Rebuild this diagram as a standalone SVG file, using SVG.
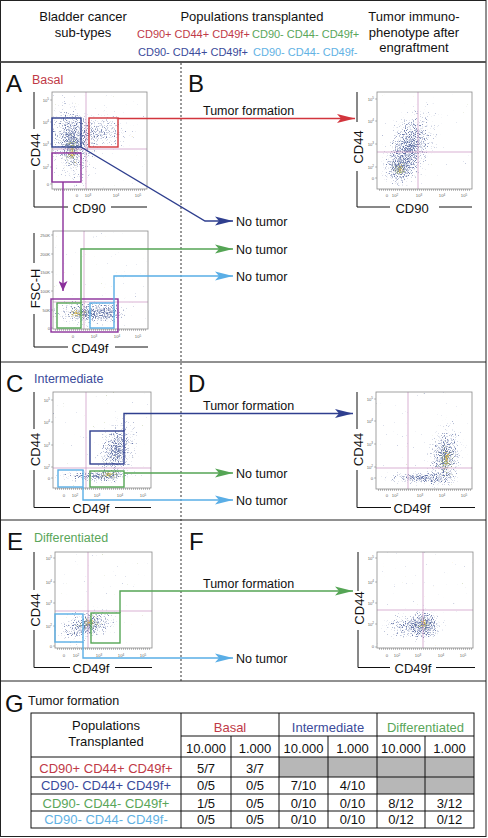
<svg xmlns="http://www.w3.org/2000/svg" width="488" height="838" viewBox="0 0 488 838">
<style>
text{font-family:"Liberation Sans",Arial,Helvetica,sans-serif;fill:#111}
.h{font-size:13px}
.pl{font-size:11px}
.lt{font-size:24px}
.sub{font-size:12.5px}
.ax{font-size:13px}
.lbl{font-size:12.5px}
.tk{font-size:4.2px;fill:#666}
.bg{fill:#fff}
.fr{fill:none;stroke:#8a8a8a;stroke-width:0.8}
.q{stroke:#c891c0;stroke-width:0.7;fill:none}
.br{stroke:#111;stroke-width:1;fill:none}
.tm{stroke:#777;stroke-width:0.5;fill:none}
.mt{stroke:#555;stroke-width:1.6;stroke-dasharray:0.5 1.5;fill:none}
.g{fill:none;stroke-width:1.4}
.sep{stroke:#222;stroke-width:1;fill:none}
.tb{font-size:13px}
.red{stroke:#d2353d}
.dbl{stroke:#2f3f8f}
.grn{stroke:#55a555}
.lbl2{stroke:#5aaee6}
.pur{stroke:#8b2f9b}
.tred{fill:#bf3a47}
.tdbl{fill:#3b4b9b}
.tgrn{fill:#5aa65a}
.tlbl{fill:#62b2e4}
.cell{fill:#b7b7b7}
.tl{stroke:#111;stroke-width:1;fill:none}
</style>
<defs>
<radialGradient id="dens"><stop offset="0" stop-color="#000" stop-opacity="1"/><stop offset="1" stop-color="#000" stop-opacity="0"/></radialGradient>
<filter id="fB" filterUnits="userSpaceOnUse" x="0" y="0" width="488" height="838" color-interpolation-filters="sRGB">
<feTurbulence type="fractalNoise" baseFrequency="0.9" numOctaves="2" seed="4" result="n"/>
<feColorMatrix in="n" type="matrix" values="0 0 0 0 0 0 0 0 0 0 0 0 0 0 0 1 0 0 0 0" result="na"/>
<feComposite in="na" in2="SourceAlpha" operator="arithmetic" k1="0" k2="1" k3="0.46" k4="-0.78" result="c"/>
<feComponentTransfer in="c" result="m"><feFuncA type="linear" slope="4" intercept="0"/></feComponentTransfer>
<feFlood flood-color="#6878aa"/>
<feComposite in2="m" operator="in"/>
</filter>
<filter id="fG" filterUnits="userSpaceOnUse" x="0" y="0" width="488" height="838" color-interpolation-filters="sRGB">
<feTurbulence type="fractalNoise" baseFrequency="0.9" numOctaves="2" seed="11" result="n"/>
<feColorMatrix in="n" type="matrix" values="0 0 0 0 0 0 0 0 0 0 0 0 0 0 0 1 0 0 0 0" result="na"/>
<feComposite in="na" in2="SourceAlpha" operator="arithmetic" k1="0" k2="1" k3="0.45" k4="-0.82" result="c"/>
<feComponentTransfer in="c" result="m"><feFuncA type="linear" slope="4" intercept="0"/></feComponentTransfer>
<feFlood flood-color="#97aa6c"/>
<feComposite in2="m" operator="in"/>
</filter>
<filter id="fY" filterUnits="userSpaceOnUse" x="0" y="0" width="488" height="838" color-interpolation-filters="sRGB">
<feTurbulence type="fractalNoise" baseFrequency="0.9" numOctaves="2" seed="23" result="n"/>
<feColorMatrix in="n" type="matrix" values="0 0 0 0 0 0 0 0 0 0 0 0 0 0 0 1 0 0 0 0" result="na"/>
<feComposite in="na" in2="SourceAlpha" operator="arithmetic" k1="0" k2="1" k3="0.5" k4="-0.85" result="c"/>
<feComponentTransfer in="c" result="m"><feFuncA type="linear" slope="4" intercept="0"/></feComponentTransfer>
<feFlood flood-color="#dcb444"/>
<feComposite in2="m" operator="in"/>
</filter>
<clipPath id="cA1"><rect x="52" y="92" width="95" height="97"/></clipPath>
<clipPath id="cA2"><rect x="53" y="231" width="95" height="98"/></clipPath>
<clipPath id="cB"><rect x="377" y="92" width="95" height="97"/></clipPath>
<clipPath id="cC"><rect x="53" y="392" width="98" height="96"/></clipPath>
<clipPath id="cD"><rect x="376" y="392" width="96" height="97"/></clipPath>
<clipPath id="cE"><rect x="55" y="552" width="97" height="96"/></clipPath>
<clipPath id="cF"><rect x="377" y="552" width="96" height="96"/></clipPath>
<marker id="mR" viewBox="0 0 18 10" refX="18" refY="5" markerWidth="18" markerHeight="10" markerUnits="userSpaceOnUse" orient="auto"><path d="M0,0.5 L18,5 L0,9.5 L4,5Z" fill="#d2353d"/></marker>
<marker id="mDB" viewBox="0 0 18 10" refX="18" refY="5" markerWidth="18" markerHeight="10" markerUnits="userSpaceOnUse" orient="auto"><path d="M0,0.5 L18,5 L0,9.5 L4,5Z" fill="#2f3f8f"/></marker>
<marker id="mG" viewBox="0 0 18 10" refX="18" refY="5" markerWidth="18" markerHeight="10" markerUnits="userSpaceOnUse" orient="auto"><path d="M0,0.5 L18,5 L0,9.5 L4,5Z" fill="#55a555"/></marker>
<marker id="mLB" viewBox="0 0 18 10" refX="18" refY="5" markerWidth="18" markerHeight="10" markerUnits="userSpaceOnUse" orient="auto"><path d="M0,0.5 L18,5 L0,9.5 L4,5Z" fill="#5aaee6"/></marker>
<marker id="mP" viewBox="0 0 10 9" refX="10" refY="4.5" markerWidth="10" markerHeight="9" markerUnits="userSpaceOnUse" orient="auto"><path d="M0,0 L10,4.5 L0,9 L2.5,4.5Z" fill="#8b2f9b"/></marker>
</defs>

<rect x="0" y="0" width="488" height="838" fill="#fff"/>

<g id="frame">
<rect x="0.5" y="0.5" width="485.5" height="836" fill="none" stroke="#222" stroke-width="1"/>
<line x1="0.5" y1="62" x2="486" y2="62" stroke="#555" stroke-width="2"/>
<path class="sep" d="M0.5,362H486M0.5,520H486M0.5,681H486"/>
<line x1="181" y1="63" x2="181" y2="681" stroke="#333" stroke-width="1" stroke-dasharray="2 2"/>
</g>

<g id="header">
<text class="h" x="83" y="21" text-anchor="middle">Bladder cancer</text>
<text class="h" x="83" y="36.5" text-anchor="middle">sub-types</text>
<text class="h" x="252" y="21" text-anchor="middle">Populations transplanted</text>
<text class="pl tred" x="137" y="38">CD90+ CD44+ CD49f+</text>
<text class="pl tgrn" x="252" y="38">CD90- CD44- CD49f+</text>
<text class="pl tdbl" x="138" y="55.5">CD90- CD44+ CD49f+</text>
<text class="pl tlbl" x="253" y="55.5">CD90- CD44- CD49f-</text>
<text class="h" x="414" y="21" text-anchor="middle">Tumor immuno-</text>
<text class="h" x="414" y="36.5" text-anchor="middle">phenotype after</text>
<text class="h" x="414" y="51.5" text-anchor="middle">engraftment</text>
</g>

<g id="panel-A">
<text class="lt" x="6" y="92">A</text>
<text class="sub tred" x="32" y="84">Basal</text>
<g id="plot-A1">
<rect class="bg" x="52" y="92" width="95" height="97"/>
<g clip-path="url(#cA1)">
<g filter="url(#fB)">
<ellipse cx="72" cy="142" rx="28" ry="52" fill="url(#dens)" transform="rotate(-10 72 142)"/>
<ellipse cx="102" cy="132" rx="38" ry="26" fill="url(#dens)" fill-opacity="0.7"/>
</g>
<g filter="url(#fG)"><ellipse cx="72" cy="150" rx="12" ry="24" fill="url(#dens)"/></g>
<g filter="url(#fY)"><ellipse cx="72" cy="153" rx="7" ry="14" fill="url(#dens)"/></g>
</g>
<path class="q" d="M86,92V189M52,149H147"/>
<rect class="fr" x="52" y="92" width="95" height="97"/>
<path class="tm" d="M50,100H52M50,122H52M50,144H52M50,167H52M50,184H52"/>
<path class="mt" d="M54,190H146"/>
<text class="tk" x="49" y="101.5" text-anchor="end">10<tspan font-size="3" dy="-1.5">5</tspan></text>
<text class="tk" x="49" y="123.5" text-anchor="end">10<tspan font-size="3" dy="-1.5">4</tspan></text>
<text class="tk" x="49" y="145.5" text-anchor="end">10<tspan font-size="3" dy="-1.5">3</tspan></text>
<text class="tk" x="49" y="168.5" text-anchor="end">10<tspan font-size="3" dy="-1.5">2</tspan></text>
<text class="tk" x="49" y="185.5" text-anchor="end">0</text>
<text class="tk" x="77" y="197" text-anchor="middle">0</text>
<text class="tk" x="88" y="197" text-anchor="middle">10<tspan font-size="3" dy="-1.5">3</tspan></text>
<text class="tk" x="116" y="197" text-anchor="middle">10<tspan font-size="3" dy="-1.5">4</tspan></text>
<text class="tk" x="138" y="197" text-anchor="middle">10<tspan font-size="3" dy="-1.5">5</tspan></text>
<path class="br" d="M34,92V129M34,170V207H68M111,207H147"/>
<text class="ax" transform="translate(39.5,150) rotate(-90)" text-anchor="middle">CD44</text>
<text class="ax" x="89" y="212.5" text-anchor="middle">CD90</text>
<rect class="g red" x="89" y="118" width="29" height="29"/>
<rect class="g dbl" x="52" y="118" width="29" height="29"/>
<rect class="g pur" x="52" y="153" width="29" height="29"/>
</g>
<g id="plot-A2">
<rect class="bg" x="53" y="231" width="95" height="98"/>
<g clip-path="url(#cA2)">
<g filter="url(#fB)">
<ellipse cx="88" cy="313" rx="46" ry="16" fill="url(#dens)"/>
<ellipse cx="110" cy="312" rx="20" ry="12" fill="url(#dens)" fill-opacity="0.8"/>
</g>
<g filter="url(#fG)"><ellipse cx="80" cy="313" rx="18" ry="9" fill="url(#dens)"/></g>
<g filter="url(#fY)"><ellipse cx="76" cy="313" rx="10" ry="6" fill="url(#dens)"/></g>
</g>
<path class="q" d="M84,231V329M53,302H148"/>
<rect class="fr" x="53" y="231" width="95" height="98"/>
<path class="tm" d="M51,235H53M51,254H53M51,272H53M51,291H53M51,310H53M51,328H53"/>
<path class="mt" d="M55,330H147"/>
<text class="tk" x="50" y="236.5" text-anchor="end">250K</text>
<text class="tk" x="50" y="255.5" text-anchor="end">200K</text>
<text class="tk" x="50" y="273.5" text-anchor="end">150K</text>
<text class="tk" x="50" y="292.5" text-anchor="end">100K</text>
<text class="tk" x="50" y="311.5" text-anchor="end">50K</text>
<text class="tk" x="50" y="329.5" text-anchor="end">0</text>
<text class="tk" x="73" y="338" text-anchor="middle">0</text>
<text class="tk" x="94" y="338" text-anchor="middle">10<tspan font-size="3" dy="-1.5">3</tspan></text>
<text class="tk" x="117" y="338" text-anchor="middle">10<tspan font-size="3" dy="-1.5">4</tspan></text>
<text class="tk" x="138" y="338" text-anchor="middle">10<tspan font-size="3" dy="-1.5">5</tspan></text>
<path class="br" d="M34,233V263M34,314V347H68M115,347H148"/>
<text class="ax" transform="translate(39.5,288.5) rotate(-90)" text-anchor="middle">FSC-H</text>
<text class="ax" x="90" y="352.5" text-anchor="middle">CD49f</text>
<rect class="g pur" x="51" y="299" width="67" height="33"/>
<rect class="g grn" x="57" y="303" width="24" height="25"/>
<rect class="g lbl2" x="90" y="303" width="24" height="25"/>
</g>
</g>

<g id="panel-B">
<text class="lt" x="188" y="92">B</text>
<g id="plot-B">
<rect class="bg" x="377" y="92" width="95" height="97"/>
<g clip-path="url(#cB)">
<g filter="url(#fB)">
<ellipse cx="410" cy="146" rx="30" ry="52" fill="url(#dens)" transform="rotate(22 410 146)"/>
<ellipse cx="400" cy="167" rx="18" ry="20" fill="url(#dens)"/>
</g>
<g filter="url(#fG)"><ellipse cx="400" cy="169" rx="11" ry="13" fill="url(#dens)"/></g>
<g filter="url(#fY)"><ellipse cx="400" cy="170" rx="6" ry="8" fill="url(#dens)"/></g>
</g>
<path class="q" d="M418,92V189M377,152H472"/>
<rect class="fr" x="377" y="92" width="95" height="97"/>
<path class="tm" d="M375,99H377M375,121H377M375,144H377M375,167H377M375,178H377"/>
<path class="mt" d="M379,190H471"/>
<text class="tk" x="374" y="100.5" text-anchor="end">10<tspan font-size="3" dy="-1.5">5</tspan></text>
<text class="tk" x="374" y="122.5" text-anchor="end">10<tspan font-size="3" dy="-1.5">4</tspan></text>
<text class="tk" x="374" y="145.5" text-anchor="end">10<tspan font-size="3" dy="-1.5">3</tspan></text>
<text class="tk" x="374" y="168.5" text-anchor="end">10<tspan font-size="3" dy="-1.5">2</tspan></text>
<text class="tk" x="374" y="179.5" text-anchor="end">0</text>
<text class="tk" x="387" y="197" text-anchor="middle">0</text>
<text class="tk" x="395" y="197" text-anchor="middle">10<tspan font-size="3" dy="-1.5">2</tspan></text>
<text class="tk" x="419" y="197" text-anchor="middle">10<tspan font-size="3" dy="-1.5">3</tspan></text>
<text class="tk" x="442" y="197" text-anchor="middle">10<tspan font-size="3" dy="-1.5">4</tspan></text>
<text class="tk" x="464" y="197" text-anchor="middle">10<tspan font-size="3" dy="-1.5">5</tspan></text>
<path class="br" d="M357,92V122M357,171V207H390M439,207H472"/>
<text class="ax" transform="translate(362.5,147) rotate(-90)" text-anchor="middle">CD44</text>
<text class="ax" x="412" y="212.5" text-anchor="middle">CD90</text>
</g>
</g>

<g id="panel-C">
<text class="lt" x="6" y="392">C</text>
<text class="sub tdbl" x="34" y="383">Intermediate</text>
<g id="plot-C">
<rect class="bg" x="53" y="392" width="98" height="96"/>
<g clip-path="url(#cC)">
<g filter="url(#fB)">
<ellipse cx="96" cy="476" rx="50" ry="8" fill="url(#dens)"/>
<ellipse cx="117" cy="450" rx="24" ry="40" fill="url(#dens)" transform="rotate(15 117 450)"/>
</g>
<g filter="url(#fG)"><ellipse cx="108" cy="474" rx="18" ry="8" fill="url(#dens)"/></g>
<g filter="url(#fY)"><ellipse cx="108" cy="475" rx="9" ry="5" fill="url(#dens)"/></g>
</g>
<path class="q" d="M86,392V488M53,468H151"/>
<rect class="fr" x="53" y="392" width="98" height="96"/>
<path class="tm" d="M51,400H53M51,422H53M51,445H53M51,467H53M51,478H53"/>
<path class="mt" d="M55,489H150"/>
<text class="tk" x="50" y="401.5" text-anchor="end">10<tspan font-size="3" dy="-1.5">5</tspan></text>
<text class="tk" x="50" y="423.5" text-anchor="end">10<tspan font-size="3" dy="-1.5">4</tspan></text>
<text class="tk" x="50" y="446.5" text-anchor="end">10<tspan font-size="3" dy="-1.5">3</tspan></text>
<text class="tk" x="50" y="468.5" text-anchor="end">10<tspan font-size="3" dy="-1.5">2</tspan></text>
<text class="tk" x="50" y="479.5" text-anchor="end">0</text>
<text class="tk" x="64" y="497" text-anchor="middle">0</text>
<text class="tk" x="75" y="497" text-anchor="middle">10<tspan font-size="3" dy="-1.5">2</tspan></text>
<text class="tk" x="97" y="497" text-anchor="middle">10<tspan font-size="3" dy="-1.5">3</tspan></text>
<text class="tk" x="120" y="497" text-anchor="middle">10<tspan font-size="3" dy="-1.5">4</tspan></text>
<text class="tk" x="143" y="497" text-anchor="middle">10<tspan font-size="3" dy="-1.5">5</tspan></text>
<path class="br" d="M34,392V429M34,470V507.5H70M115,507.5H151"/>
<text class="ax" transform="translate(39.5,449.5) rotate(-90)" text-anchor="middle">CD44</text>
<text class="ax" x="91" y="513" text-anchor="middle">CD49f</text>
<rect class="g dbl" x="90" y="431" width="34" height="33"/>
<rect class="g grn" x="90" y="471" width="34" height="16"/>
<rect class="g lbl2" x="58" y="470" width="25" height="17"/>
</g>
</g>

<g id="panel-D">
<text class="lt" x="188" y="392">D</text>
<g id="plot-D">
<rect class="bg" x="376" y="392" width="96" height="97"/>
<g clip-path="url(#cD)">
<g filter="url(#fB)">
<ellipse cx="420" cy="478" rx="50" ry="8" fill="url(#dens)"/>
<ellipse cx="445" cy="455" rx="22" ry="42" fill="url(#dens)" transform="rotate(8 445 455)"/>
</g>
<g filter="url(#fG)"><ellipse cx="446" cy="462" rx="12" ry="26" fill="url(#dens)"/></g>
<g filter="url(#fY)"><ellipse cx="447" cy="458" rx="6" ry="16" fill="url(#dens)"/></g>
</g>
<path class="q" d="M408,392V489M376,468H472"/>
<rect class="fr" x="376" y="392" width="96" height="97"/>
<path class="tm" d="M374,399H376M374,421H376M374,444H376M374,467H376M374,478H376"/>
<path class="mt" d="M378,490H471"/>
<text class="tk" x="373" y="400.5" text-anchor="end">10<tspan font-size="3" dy="-1.5">5</tspan></text>
<text class="tk" x="373" y="422.5" text-anchor="end">10<tspan font-size="3" dy="-1.5">4</tspan></text>
<text class="tk" x="373" y="445.5" text-anchor="end">10<tspan font-size="3" dy="-1.5">3</tspan></text>
<text class="tk" x="373" y="468.5" text-anchor="end">10<tspan font-size="3" dy="-1.5">2</tspan></text>
<text class="tk" x="373" y="479.5" text-anchor="end">0</text>
<text class="tk" x="387" y="497" text-anchor="middle">0</text>
<text class="tk" x="395" y="497" text-anchor="middle">10<tspan font-size="3" dy="-1.5">2</tspan></text>
<text class="tk" x="420" y="497" text-anchor="middle">10<tspan font-size="3" dy="-1.5">3</tspan></text>
<text class="tk" x="442" y="497" text-anchor="middle">10<tspan font-size="3" dy="-1.5">4</tspan></text>
<text class="tk" x="464" y="497" text-anchor="middle">10<tspan font-size="3" dy="-1.5">5</tspan></text>
<path class="br" d="M357,392V429M357,470V507.5H391M440,507.5H475"/>
<text class="ax" transform="translate(362.5,449.5) rotate(-90)" text-anchor="middle">CD44</text>
<text class="ax" x="412" y="513" text-anchor="middle">CD49f</text>
</g>
</g>

<g id="panel-E">
<text class="lt" x="7" y="550">E</text>
<text class="sub tgrn" x="34" y="542">Differentiated</text>
<g id="plot-E">
<rect class="bg" x="55" y="552" width="97" height="96"/>
<g clip-path="url(#cE)">
<g filter="url(#fB)">
<ellipse cx="88" cy="625" rx="40" ry="20" fill="url(#dens)" transform="rotate(-15 88 625)"/>
</g>
<g filter="url(#fG)"><ellipse cx="89" cy="623" rx="18" ry="10" fill="url(#dens)" transform="rotate(-15 89 623)"/></g>
<g filter="url(#fY)"><ellipse cx="89" cy="622" rx="10" ry="6" fill="url(#dens)"/></g>
</g>
<path class="q" d="M88,552V648M55,611H152"/>
<rect class="fr" x="55" y="552" width="97" height="96"/>
<path class="tm" d="M53,558H55M53,582H55M53,603H55M53,626H55M53,646H55"/>
<path class="mt" d="M57,649H151"/>
<text class="tk" x="52" y="559.5" text-anchor="end">10<tspan font-size="3" dy="-1.5">5</tspan></text>
<text class="tk" x="52" y="583.5" text-anchor="end">10<tspan font-size="3" dy="-1.5">4</tspan></text>
<text class="tk" x="52" y="604.5" text-anchor="end">10<tspan font-size="3" dy="-1.5">3</tspan></text>
<text class="tk" x="52" y="627.5" text-anchor="end">10<tspan font-size="3" dy="-1.5">2</tspan></text>
<text class="tk" x="52" y="647.5" text-anchor="end">0</text>
<text class="tk" x="64" y="657" text-anchor="middle">0</text>
<text class="tk" x="76" y="657" text-anchor="middle">10<tspan font-size="3" dy="-1.5">2</tspan></text>
<text class="tk" x="99" y="657" text-anchor="middle">10<tspan font-size="3" dy="-1.5">3</tspan></text>
<text class="tk" x="121" y="657" text-anchor="middle">10<tspan font-size="3" dy="-1.5">4</tspan></text>
<text class="tk" x="143" y="657" text-anchor="middle">10<tspan font-size="3" dy="-1.5">5</tspan></text>
<path class="br" d="M34,552V590M34,630V667.5H70M115,667.5H152"/>
<text class="ax" transform="translate(39.5,610) rotate(-90)" text-anchor="middle">CD44</text>
<text class="ax" x="91" y="673" text-anchor="middle">CD49f</text>
<rect class="g lbl2" x="55" y="614" width="28" height="28"/>
<rect class="g grn" x="91" y="613" width="29" height="30"/>
</g>
</g>

<g id="panel-F">
<text class="lt" x="189" y="550">F</text>
<g id="plot-F">
<rect class="bg" x="377" y="552" width="96" height="96"/>
<g clip-path="url(#cF)">
<g filter="url(#fB)">
<ellipse cx="413" cy="626" rx="42" ry="18" fill="url(#dens)" fill-opacity="0.9"/>
<ellipse cx="425" cy="624" rx="16" ry="20" fill="url(#dens)"/>
</g>
<g filter="url(#fG)"><ellipse cx="424" cy="624" rx="11" ry="12" fill="url(#dens)"/></g>
<g filter="url(#fY)"><ellipse cx="424" cy="622" rx="6" ry="8" fill="url(#dens)"/></g>
</g>
<path class="q" d="M423,552V648M377,610H473"/>
<rect class="fr" x="377" y="552" width="96" height="96"/>
<path class="tm" d="M375,558H377M375,582H377M375,603H377M375,624H377M375,647H377"/>
<path class="mt" d="M379,649H472"/>
<text class="tk" x="374" y="559.5" text-anchor="end">10<tspan font-size="3" dy="-1.5">5</tspan></text>
<text class="tk" x="374" y="583.5" text-anchor="end">10<tspan font-size="3" dy="-1.5">4</tspan></text>
<text class="tk" x="374" y="604.5" text-anchor="end">10<tspan font-size="3" dy="-1.5">3</tspan></text>
<text class="tk" x="374" y="625.5" text-anchor="end">10<tspan font-size="3" dy="-1.5">2</tspan></text>
<text class="tk" x="374" y="648" text-anchor="end">0</text>
<text class="tk" x="387" y="657" text-anchor="middle">0</text>
<text class="tk" x="397" y="657" text-anchor="middle">10<tspan font-size="3" dy="-1.5">2</tspan></text>
<text class="tk" x="418" y="657" text-anchor="middle">10<tspan font-size="3" dy="-1.5">3</tspan></text>
<text class="tk" x="441" y="657" text-anchor="middle">10<tspan font-size="3" dy="-1.5">4</tspan></text>
<text class="tk" x="463" y="657" text-anchor="middle">10<tspan font-size="3" dy="-1.5">5</tspan></text>
<path class="br" d="M358,552V591M358,630V667.5H390M436,667.5H475"/>
<text class="ax" transform="translate(363.5,608) rotate(-90)" text-anchor="middle">CD44</text>
<text class="ax" x="413" y="673" text-anchor="middle">CD49f</text>
</g>
</g>

<g id="connectors">
<path class="g red" d="M118,118.5H355" marker-end="url(#mR)"/>
<path class="g dbl" d="M81,147L205,221L233,221" marker-end="url(#mDB)"/>
<path class="g pur" d="M63,182V291" marker-end="url(#mP)"/>
<path class="g grn" d="M81,303V249H233" marker-end="url(#mG)"/>
<path class="g lbl2" d="M114,303V276H233" marker-end="url(#mLB)"/>
<path class="g dbl" d="M124,431V413.5H353" marker-end="url(#mDB)"/>
<path class="g grn" d="M124,473H233" marker-end="url(#mG)"/>
<path class="g lbl2" d="M83,487V500H233" marker-end="url(#mLB)"/>
<path class="g grn" d="M120,613V591H353" marker-end="url(#mG)"/>
<path class="g lbl2" d="M83,642V658H233" marker-end="url(#mLB)"/>
</g>

<g id="labels">
<text class="lbl" x="203" y="114.5">Tumor formation</text>
<text class="lbl" x="236" y="225.5">No tumor</text>
<text class="lbl" x="236" y="253.5">No tumor</text>
<text class="lbl" x="236" y="280.5">No tumor</text>
<text class="lbl" x="203" y="410">Tumor formation</text>
<text class="lbl" x="236" y="477.5">No tumor</text>
<text class="lbl" x="236" y="504.5">No tumor</text>
<text class="lbl" x="203" y="588">Tumor formation</text>
<text class="lbl" x="236" y="662.5">No tumor</text>
</g>

<g id="panel-G">
<text class="lt" x="5" y="712">G</text>
<text class="lbl" x="28" y="704.5">Tumor formation</text>
<g id="table">
<rect class="cell" x="279" y="757" width="195" height="20"/>
<rect class="cell" x="377" y="777" width="97" height="17"/>
<rect class="tl" x="31" y="713" width="443" height="115"/>
<path class="tl" d="M181,736H474M31,757H474M31,777H474M31,794H474M31,811H474M181,713V828M279,713V828M377,713V828M231,736V828M328,736V828M425,736V828"/>
<text class="tb" x="106" y="729.5" text-anchor="middle">Populations</text>
<text class="tb" x="106" y="745.5" text-anchor="middle">Transplanted</text>
<text class="tb tred" x="230" y="731.5" text-anchor="middle">Basal</text>
<text class="tb tdbl" x="328" y="731.5" text-anchor="middle">Intermediate</text>
<text class="tb tgrn" x="425.5" y="731.5" text-anchor="middle">Differentiated</text>
<g text-anchor="middle">
<text class="tb" x="206" y="752.5">10.000</text>
<text class="tb" x="255" y="752.5">1.000</text>
<text class="tb" x="303.5" y="752.5">10.000</text>
<text class="tb" x="352.5" y="752.5">1.000</text>
<text class="tb" x="401" y="752.5">10.000</text>
<text class="tb" x="449.5" y="752.5">1.000</text>
<text class="tb tred" x="106" y="772.5">CD90+ CD44+ CD49f+</text>
<text class="tb" x="206" y="772.5">5/7</text>
<text class="tb" x="255" y="772.5">3/7</text>
<text class="tb tdbl" x="106" y="790">CD90- CD44+ CD49f+</text>
<text class="tb" x="206" y="790">0/5</text>
<text class="tb" x="255" y="790">0/5</text>
<text class="tb" x="303.5" y="790">7/10</text>
<text class="tb" x="352.5" y="790">4/10</text>
<text class="tb tgrn" x="106" y="807.5">CD90- CD44- CD49f+</text>
<text class="tb" x="206" y="807.5">1/5</text>
<text class="tb" x="255" y="807.5">0/5</text>
<text class="tb" x="303.5" y="807.5">0/10</text>
<text class="tb" x="352.5" y="807.5">0/10</text>
<text class="tb" x="401" y="807.5">8/12</text>
<text class="tb" x="449.5" y="807.5">3/12</text>
<text class="tb tlbl" x="106" y="824">CD90- CD44- CD49f-</text>
<text class="tb" x="206" y="824">0/5</text>
<text class="tb" x="255" y="824">0/5</text>
<text class="tb" x="303.5" y="824">0/10</text>
<text class="tb" x="352.5" y="824">0/10</text>
<text class="tb" x="401" y="824">0/12</text>
<text class="tb" x="449.5" y="824">0/12</text>
</g>
</g>
</g>
</svg>
